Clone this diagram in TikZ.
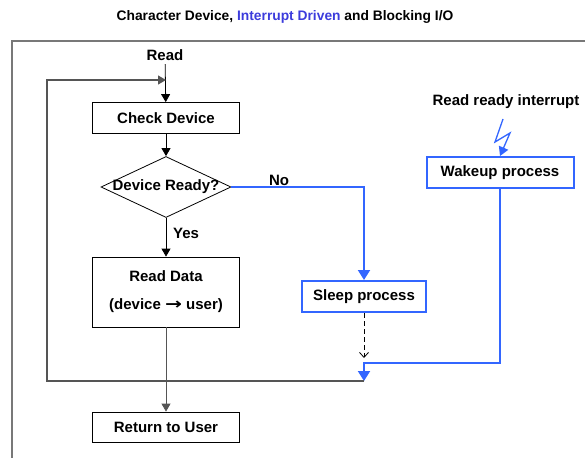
\documentclass[tikz,border=0pt]{standalone}
\usepackage{graphicx}
\usepackage{fontspec}
\setmainfont{Liberation Sans}
\newfontfamily\arrowfont{DejaVu Sans}
\usetikzlibrary{shapes.geometric,arrows.meta,calc}
\definecolor{flowblue}{RGB}{51,102,255}
\definecolor{titleblue}{RGB}{60,60,220}
\definecolor{linegray}{RGB}{85,85,85}
\definecolor{framegray}{RGB}{120,120,120}

\begin{document}
\begin{tikzpicture}[x=1pt,y=-1pt,
  every node/.style={font=\fontsize{15}{18}\selectfont\bfseries},
  box/.style={draw=black,line width=0.8pt,rectangle,minimum width=147pt,minimum height=31pt,inner sep=0pt},
  bluebox/.style={draw=flowblue,line width=2pt,rectangle,minimum height=31pt,inner sep=0pt},
  decision/.style={diamond,draw=black,line width=0.8pt,minimum width=130pt,minimum height=61pt,inner sep=0pt},
  flow/.style={draw=black,line width=0.8pt,-{Triangle[length=8pt,width=9pt]}},
  blueflow/.style={draw=flowblue,line width=2pt,-{Triangle[length=10pt,width=12pt]}},
  loopline/.style={draw=linegray,line width=1.2pt},
  waitline/.style={draw=black,line width=0.8pt,dash pattern=on 5pt off 3pt,-{Straight Barb[length=5pt,width=9pt]}},
  bolt/.style={draw=flowblue,line width=1.3pt,-{Triangle[length=9pt,width=10pt]}}
]
\useasboundingbox (0,0) rectangle (585,457);

% frame around the flow
\draw[framegray,line width=1.2pt] (12,470) -- (12,41) -- (600,41);

% title
\node[font=\fontsize{13.8}{16}\selectfont\bfseries] (title) at (285,17)
  {Character Device, \textcolor{titleblue}{Interrupt Driven} and Blocking I/O};

% main flow
\node (read) at (165,55) {Read};
\node[box] (check) at (166,118) {Check Device};
\node[decision] (ready) at (166,187) {\makebox[0pt]{Device Ready?}};
\node[box,minimum height=70pt,align=center] (data) at (166,292)
  {Read Data\\[10pt](device \scalebox{1.35}[1.05]{\arrowfont\bfseries →} user)};
\node[box,minimum height=30pt] (ret) at (166,427) {Return to User};

% sleeping / waking side
\node[bluebox,minimum width=124pt] (sleep) at (364,296.5) {Sleep process};
\node[bluebox,minimum width=147pt] (wake) at (500,172.5) {Wakeup process};
\node (irq) at (506,102) {Read ready interrupt};

% branch labels
\node (no) at (279,180) {No};
\node (yes) at (186,233) {Yes};

% helper points
\coordinate (join) at (364,381);
\coordinate (bend) at (364,363);
\coordinate (waitend) at (364,358);
\coordinate (loopbl) at (47,381);
\coordinate (looptl) at (47,80);
\coordinate (loopin) at (166,80);
\coordinate (b1) at (503,119);
\coordinate (b2) at (495,142);
\coordinate (b3) at (510,133);

% connectors
\draw[flow] (read) -- (check);
\draw[flow] (check) -- (ready);
\draw[flow] (ready) -- (data);
\draw[flow,draw=linegray] (data) -- (ret);
\draw[blueflow] (ready.east) -| (sleep.north);
\draw[waitline] (sleep.south) -- (waitend);
\draw[blueflow] (wake.south) |- (bend) -- (join);
\draw[loopline,-{Triangle[length=8pt,width=9pt]}] (join) -- (loopbl) -- (looptl) -- (loopin);
\draw[bolt] (b1) -- (b2) -- (b3) -- (wake.north);
\end{tikzpicture}
\end{document}
